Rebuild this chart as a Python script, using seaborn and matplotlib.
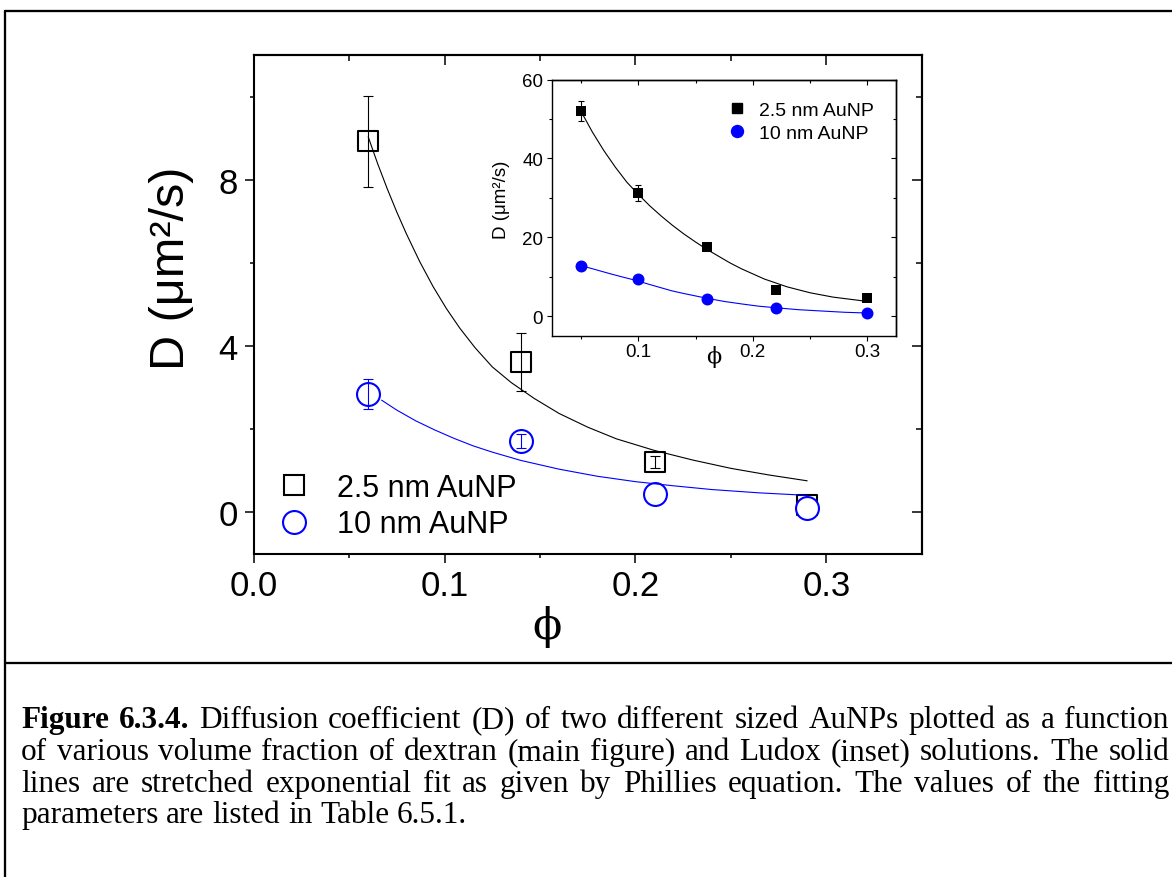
import numpy as np
import matplotlib
matplotlib.use("Agg")
import matplotlib.pyplot as plt
import seaborn as sns
from matplotlib.lines import Line2D
from matplotlib.ticker import FixedLocator, FormatStrFormatter

# ---------------- data ----------------
# main panel (dextran)
phi_main = [0.06, 0.14, 0.21, 0.29]
D_small_main = [8.92, 3.61, 1.21, 0.18]
err_small_main = [1.10, 0.70, 0.14, 0.0]
D_large_main = [2.85, 1.72, 0.45, 0.10]
err_large_main = [0.37, 0.16, 0.0, 0.0]

fit_small_main_phi = [0.060, 0.065, 0.070, 0.075, 0.080, 0.087, 0.094, 0.101, 0.108, 0.116,
                      0.125, 0.135, 0.147, 0.160, 0.175, 0.190, 0.210, 0.230, 0.250, 0.270, 0.290]
fit_small_main_D = [9.03, 8.38, 7.78, 7.22, 6.70, 6.03, 5.43, 4.90, 4.43, 3.96,
                    3.50, 3.12, 2.74, 2.38, 2.05, 1.77, 1.49, 1.26, 1.06, 0.90, 0.76]
fit_large_main_phi = [0.067, 0.075, 0.085, 0.095, 0.105, 0.115, 0.125, 0.140, 0.160,
                      0.180, 0.200, 0.220, 0.240, 0.265, 0.290]
fit_large_main_D = [2.70, 2.46, 2.20, 1.98, 1.78, 1.60, 1.45, 1.25, 1.04,
                    0.87, 0.74, 0.64, 0.55, 0.47, 0.41]

# inset (Ludox)
phi_inset = [0.05, 0.10, 0.16, 0.22, 0.30]
D_small_inset = [52.0, 31.2, 17.6, 6.6, 4.6]
err_small_inset = [2.5, 2.0, 0.0, 0.0, 0.0]
D_large_inset = [12.8, 9.5, 4.2, 2.0, 0.8]

fit_small_inset_phi = [0.05, 0.06, 0.07, 0.08, 0.09, 0.10, 0.11, 0.12, 0.13, 0.14, 0.15, 0.16,
                       0.17, 0.18, 0.19, 0.21, 0.23, 0.25, 0.27, 0.30]
fit_small_inset_D = [52.0, 46.7, 42.0, 37.8, 34.0, 30.9, 28.0, 25.4, 23.0, 20.8, 18.8, 16.9,
                     15.2, 13.5, 12.0, 9.4, 7.4, 5.9, 4.8, 3.7]
fit_large_inset_phi = [0.05, 0.06, 0.0759, 0.085, 0.0985, 0.11, 0.1292, 0.14, 0.16, 0.175,
                       0.1919, 0.205, 0.22, 0.24, 0.2644, 0.28, 0.30]
fit_large_inset_D = [12.8, 12.0, 10.7, 10.0, 9.0, 8.0, 6.4, 5.7, 4.5, 3.7,
                     3.0, 2.5, 2.1, 1.6, 1.2, 0.95, 0.76]

labels = ["2.5 nm AuNP", "10 nm AuNP"]

main_xticks = [0.0, 0.1, 0.2, 0.3]
main_xminor = [0.05, 0.15, 0.25]
main_yticks = [0, 4, 8]
main_yminor = [2, 6, 10]
inset_xticks = [0.1, 0.2, 0.3]
inset_xminor = [0.05, 0.15, 0.25]
inset_yticks = [0, 20, 40, 60]
inset_yminor = [10, 30, 50]

caption_lines = [
    "Figure 6.3.4. Diffusion coefficient (D) of two different sized AuNPs plotted as a function",
    "of various volume fraction of dextran (main figure) and Ludox (inset) solutions. The solid",
    "lines are stretched exponential fit as given by Phillies equation. The values of the fitting",
    "parameters are listed in Table 6.5.1.",
]
caption_bold_words = 2  # "Figure 6.3.4." in bold

BLUE = "#0000FF"

# ---------------- style ----------------
sns.set_theme(style="ticks", rc={
    "axes.edgecolor": "black", "xtick.color": "black", "ytick.color": "black",
    "text.color": "black", "axes.labelcolor": "black",
})
plt.rcParams["font.family"] = ["Liberation Sans", "DejaVu Sans"]

W, H = 1172, 878
fig = plt.figure(figsize=(W / 100, H / 100), dpi=100)
fig.patch.set_facecolor("white")


def px_axes(l, t, r, b):
    return [l / W, 1 - b / H, (r - l) / W, (b - t) / H]


def errbars(ax, x, y, e, color, lw, cap, z):
    x = np.asarray(x); y = np.asarray(y); e = np.asarray(e)
    m = e > 0
    ax.errorbar(x[m], y[m], yerr=e[m], fmt="none", ecolor=color, elinewidth=lw,
                capsize=cap, capthick=lw, zorder=z)


def mirror(ax, xmaj, xmin, ymaj, ymin, lmaj, lmin, w, slw):
    sx = ax.secondary_xaxis("top")
    sx.set_xticks(xmaj)
    sx.xaxis.set_minor_locator(FixedLocator(xmin))
    sx.tick_params(axis="x", which="major", direction="in", length=lmaj, width=w,
                   labeltop=False, labelbottom=False)
    sx.tick_params(axis="x", which="minor", direction="in", length=lmin, width=w)
    sx.spines["top"].set_linewidth(slw)
    sy = ax.secondary_yaxis("right")
    sy.set_yticks(ymaj)
    sy.yaxis.set_minor_locator(FixedLocator(ymin))
    sy.tick_params(axis="y", which="major", direction="in", length=lmaj, width=w,
                   labelright=False, labelleft=False)
    sy.tick_params(axis="y", which="minor", direction="in", length=lmin, width=w)
    sy.spines["right"].set_linewidth(slw)


# ---------------- main axes ----------------
ax = fig.add_axes(px_axes(253.7, 56, 921.7, 555))
ax.set_facecolor("white")

sns.scatterplot(x=phi_main, y=D_small_main, marker="s", s=14.4 ** 2, ax=ax, zorder=3)
ax.collections[-1].set_facecolor("none")
ax.collections[-1].set_edgecolor("black")
ax.collections[-1].set_linewidth(1.5)
sns.lineplot(x=fit_small_main_phi, y=fit_small_main_D, color="black", lw=0.8,
             sort=False, estimator=None, ax=ax, zorder=4)
errbars(ax, phi_main, D_small_main, err_small_main, "black", 0.8, 3.6, 4.5)

sns.scatterplot(x=phi_main, y=D_large_main, marker="o", s=16.5 ** 2, ax=ax, zorder=5)
ax.collections[-1].set_facecolor("white")
ax.collections[-1].set_edgecolor(BLUE)
ax.collections[-1].set_linewidth(1.5)
sns.lineplot(x=fit_large_main_phi, y=fit_large_main_D, color=BLUE, lw=0.8,
             sort=False, estimator=None, ax=ax, zorder=6)
errbars(ax, phi_main, D_large_main, err_large_main, BLUE, 0.8, 3.6, 6.5)

ax.set_xlim(0, 0.35)
ax.set_ylim(-1, 11)
ax.set_xticks(main_xticks)
ax.xaxis.set_minor_locator(FixedLocator(main_xminor))
ax.set_yticks(main_yticks)
ax.yaxis.set_minor_locator(FixedLocator(main_yminor))
ax.xaxis.set_major_formatter(FormatStrFormatter("%.1f"))
ax.tick_params(axis="both", which="major", direction="out", length=6.5, width=1.1,
               labelsize=25)
ax.tick_params(axis="x", which="major", pad=4.6)
ax.tick_params(axis="y", which="major", pad=5)
ax.tick_params(axis="both", which="minor", direction="out", length=3.2, width=1.1)
for s in ax.spines.values():
    s.set_linewidth(1.5)
    s.set_visible(True)
mirror(ax, main_xticks, main_xminor, main_yticks, main_yminor, 7, 4.3, 1.1, 1.5)

ax.set_ylabel("D (μm²/s)", fontsize=35)
ax.yaxis.set_label_coords(-0.090, 0.575)
ax.set_xlabel("ϕ", fontsize=31, family=["DejaVu Serif"])
ax.xaxis.set_label_coords(0.439, -0.102)

h_sq = Line2D([], [], ls="none", marker="s", ms=14.4, mfc="none", mec="black", mew=1.5)
h_ci = Line2D([], [], ls="none", marker="o", ms=16.5, mfc="none", mec=BLUE, mew=1.5)
ax.legend([h_sq, h_ci], labels, loc="upper left", bbox_to_anchor=(0.0385, 0.163),
          frameon=False, fontsize=22, handlelength=0.95, handletextpad=0.95,
          borderpad=0, borderaxespad=0, labelspacing=0.22)

# ---------------- inset ----------------
axi = fig.add_axes(px_axes(552.3, 80.7, 896, 336.7))
axi.set_facecolor("white")
sns.lineplot(x=fit_small_inset_phi, y=fit_small_inset_D, color="black", lw=0.8,
             sort=False, estimator=None, ax=axi, zorder=3)
sns.lineplot(x=fit_large_inset_phi, y=fit_large_inset_D, color=BLUE, lw=0.8,
             sort=False, estimator=None, ax=axi, zorder=3)
errbars(axi, phi_inset, D_small_inset, err_small_inset, "black", 0.8, 2.2, 4)
sns.scatterplot(x=phi_inset, y=D_small_inset, marker="s", s=7.5 ** 2, color="black",
                linewidth=0, ax=axi, zorder=5)
sns.scatterplot(x=phi_inset, y=D_large_inset, marker="o", s=8.6 ** 2, color=BLUE,
                linewidth=0, ax=axi, zorder=5)
axi.set_xlim(0.025, 0.325)
axi.set_ylim(-5, 60)
axi.set_xticks(inset_xticks)
axi.xaxis.set_minor_locator(FixedLocator(inset_xminor))
axi.set_yticks(inset_yticks)
axi.yaxis.set_minor_locator(FixedLocator(inset_yminor))
axi.xaxis.set_major_formatter(FormatStrFormatter("%.1f"))
axi.tick_params(axis="both", which="major", direction="out", length=3.6, width=0.8,
                labelsize=13.5)
axi.tick_params(axis="x", which="major", pad=2)
axi.tick_params(axis="y", which="major", pad=3)
axi.tick_params(axis="both", which="minor", direction="out", length=2.2, width=0.8)
for s in axi.spines.values():
    s.set_linewidth(1.0)
    s.set_visible(True)
mirror(axi, inset_xticks, inset_xminor, inset_yticks, inset_yminor, 3.6, 2.2, 0.8, 1.0)
axi.set_ylabel("D (μm²/s)", fontsize=13.5)
axi.yaxis.set_label_coords(-0.123, 0.534)
axi.set_xlabel("ϕ", fontsize=16, family=["DejaVu Serif"])
axi.xaxis.set_label_coords(0.47, -0.035)
hi_sq = Line2D([], [], ls="none", marker="s", ms=7.5, mfc="black", mec="black")
hi_ci = Line2D([], [], ls="none", marker="o", ms=8.6, mfc=BLUE, mec=BLUE)
axi.legend([hi_sq, hi_ci], labels, loc="upper left", bbox_to_anchor=(0.509, 0.917),
           frameon=False, fontsize=14, handlelength=1.0, handletextpad=0.63,
           borderpad=0, borderaxespad=0, labelspacing=0.28)

# ---------------- frame lines ----------------
lw_frame = 1.65
fig.add_artist(Line2D([4.5 / W, 1.0], [1 - 12.3 / H, 1 - 12.3 / H], transform=fig.transFigure,
                      color="black", lw=lw_frame))
fig.add_artist(Line2D([4.5 / W, 4.5 / W], [1 - 12.3 / H, 0.0], transform=fig.transFigure,
                      color="black", lw=lw_frame))
fig.add_artist(Line2D([4.5 / W, 1.0], [1 - 663.7 / H, 1 - 663.7 / H], transform=fig.transFigure,
                      color="black", lw=lw_frame))

# ---------------- caption (justified like the page) ----------------
serif = ["Liberation Serif", "DejaVu Serif"]
cap_fs = 22.5
baselines = [728.3, 760.0, 791.7, 823.3]
x_left, x_right = 21.0, 1169.0
renderer = fig.canvas.get_renderer()

probe1 = fig.text(0, 0, "a a", fontsize=cap_fs, family=serif)
probe2 = fig.text(0, 0, "aa", fontsize=cap_fs, family=serif)
space_w = probe1.get_window_extent(renderer).width - probe2.get_window_extent(renderer).width
probe1.remove(); probe2.remove()

for i, line in enumerate(caption_lines):
    words = line.split(" ")
    texts = []
    for j, wd in enumerate(words):
        bold = (i == 0 and j < caption_bold_words)
        t = fig.text(0, 1 - baselines[i] / H, wd, fontsize=cap_fs, family=serif,
                     weight="bold" if bold else "normal", ha="left", va="baseline")
        texts.append(t)
    widths = [t.get_window_extent(renderer).width for t in texts]
    justify = i < len(caption_lines) - 1
    gap = (x_right - x_left - sum(widths)) / (len(words) - 1) if justify else space_w
    x = x_left
    for t, wdt in zip(texts, widths):
        t.set_x(x / W)
        x += wdt + gap

fig.savefig("out.png", dpi=100, facecolor="white")
